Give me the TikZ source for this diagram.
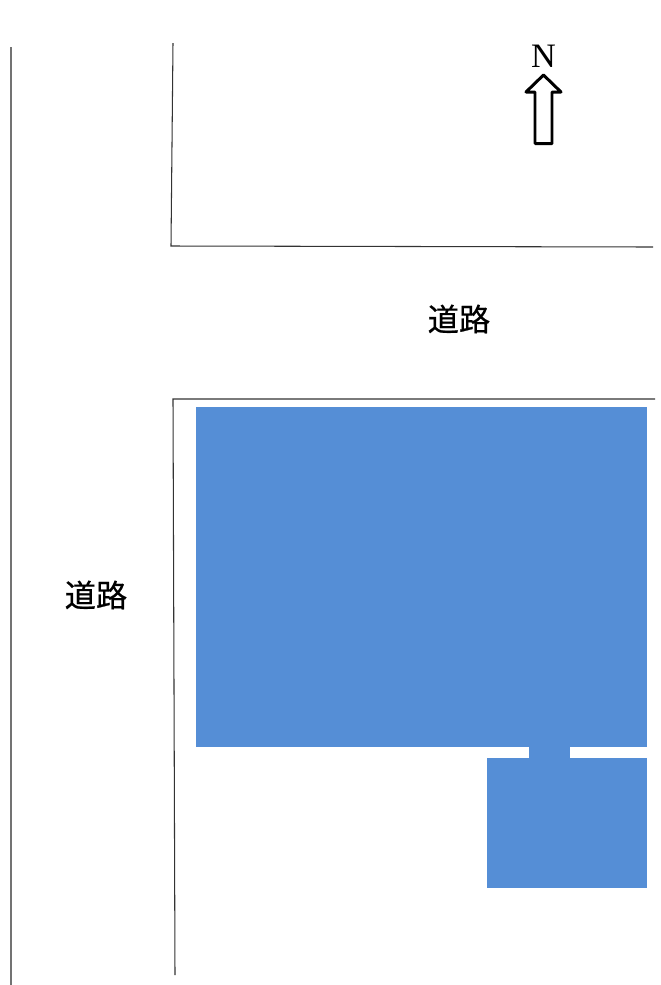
\documentclass[tikz,border=0pt]{standalone}
\usepackage{fontspec}
\setmainfont{Liberation Serif}
\newfontfamily\cjk[FakeBold=0.6]{Noto Sans CJK JP}
\definecolor{housecolor}{HTML}{558ED6}
\tikzset{
  roadlabel/.style={inner sep=0pt,font=\cjk\fontsize{17.8}{17.8}\selectfont},
  lotline/.style={draw=black!80,line width=0.6pt},
  edgeline/.style={draw=black!55,line width=0.9pt},
  house/.style={fill=housecolor,draw=none}
}
\begin{document}
\begin{tikzpicture}[x=0.02cm,y=-0.02cm]

      \useasboundingbox (0,0) rectangle (661,985);

      \fill[house] (196,407) rectangle (647,747);
      \fill[house] (529,746) rectangle (570,759);
      \fill[house] (487,758) rectangle (647,888);

      \coordinate (a) at (11,47);
      \coordinate (b) at (11,985);
      \coordinate (c) at (173,43);
      \coordinate (d) at (171,246);
      \coordinate (e) at (653,247);
      \coordinate (f) at (655,399);
      \coordinate (g) at (173,399);
      \coordinate (h) at (175,975);

      \draw[edgeline] (a) -- (b);
      \draw[lotline] (c) -- (d) -- (e);
      \draw[lotline] (f) -- (g) -- (h);

      \node[roadlabel] (r) at (459,319){道路};
      \node[roadlabel] (s) at (96,595){道路};
      \node[inner sep=0pt,font=\fontsize{19.5}{19.5}\selectfont] (n) at (543.5,56){N};

      \draw[black,line width=1.7pt,line join=round] (543.5,75) -- (561,92) -- (552,92) -- (552,143.5) -- (535,143.5) -- (535,92) -- (526,92) -- cycle;

    \end{tikzpicture}
\end{document}
